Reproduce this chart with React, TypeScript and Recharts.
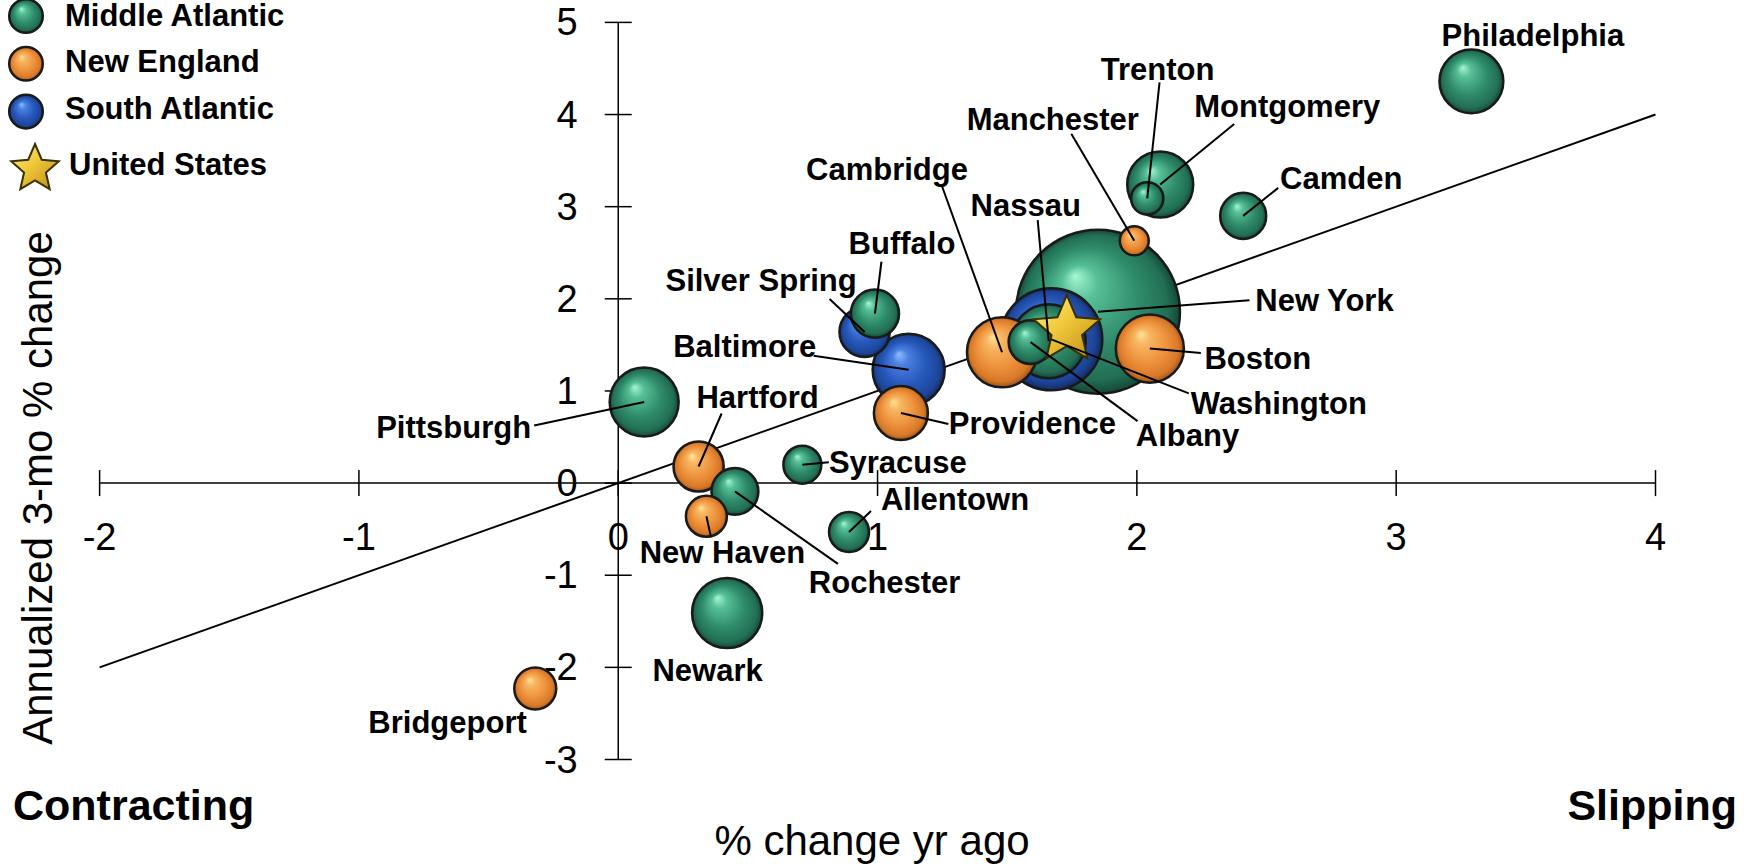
import React from 'react';
import { ScatterChart, Scatter, XAxis, YAxis, ZAxis } from 'recharts';

const FONT = '"Liberation Sans", Arial, Helvetica, sans-serif';

// ---- data ----
const regionNames = ['Middle Atlantic', 'New England', 'South Atlantic'];
const cities = [
  'Philadelphia', 'Trenton', 'Montgomery', 'Manchester', 'Camden', 'Cambridge', 'Nassau', 'New York',
  'Buffalo', 'Silver Spring', 'Baltimore', 'Boston', 'Washington', 'Albany', 'Providence', 'Pittsburgh',
  'Hartford', 'Syracuse', 'Allentown', 'New Haven', 'Rochester', 'Newark', 'Bridgeport',
];
const cityRegion = [
  0, 0, 0, 1, 0, 1, 0, 0,
  0, 2, 2, 1, 2, 0, 1, 0,
  1, 0, 0, 1, 0, 0, 1,
];
// % change yr ago
const pctYrAgo = [
  3.29, 2.04, 2.09, 1.99, 2.41, 1.48, 1.66, 1.85,
  0.99, 0.95, 1.12, 2.05, 1.67, 1.59, 1.09, 0.10,
  0.31, 0.71, 0.89, 0.34, 0.45, 0.42, -0.32,
];
// annualized 3-mo % change
const annualized3mo = [
  4.36, 3.09, 3.24, 2.63, 2.90, 1.42, 1.54, 1.86,
  1.84, 1.64, 1.23, 1.46, 1.56, 1.53, 0.76, 0.88,
  0.18, 0.20, -0.53, -0.36, -0.09, -1.41, -2.23,
];
// bubble size (employment, relative units)
const employment = [
  102, 26, 109, 21, 53, 123, 137, 672,
  58, 63, 130, 116, 260, 48, 73, 119,
  63, 36, 40, 42, 55, 123, 44,
];
const unitedStates = { name: 'United States', x: 1.73, y: 1.66 };
const xTicks = [-2, -1, 0, 1, 2, 3, 4];
const yTicks = [-3, -2, -1, 0, 1, 2, 3, 4, 5];

// ---- label placement (pixel offsets from bubble centre: label dx, dy, leader start dx, dy) ----
const labelLayout: Record<string, number[]> = {
  'Philadelphia': [61.5, -46.3],
  'Trenton': [10.3, -129, 12.3, -116],
  'Montgomery': [127, -77.6, 74, -60.6],
  'Manchester': [-81.5, -121, -63, -107],
  'Camden': [98, -37, 35, -28],
  'Cambridge': [-115, -183, -60, -166],
  'Nassau': [-23, -136, -11, -121],
  'New York': [226.5, -11.5, 151.5, -11.5],
  'Buffalo': [27, -70, 6.5, -52],
  'Silver Spring': [-103.5, -51, -35, -33],
  'Baltimore': [-164, -23, -95, -14],
  'Boston': [108, 10, 51, 4.5],
  'Washington': [227.5, 64, 137.5, 54],
  'Albany': [157, 93, 107, 79],
  'Providence': [131.5, 10, 47.5, 11],
  'Pittsburgh': [-190.5, 25.5, -110, 23.5],
  'Hartford': [59, -69, 23, -53],
  'Syracuse': [95.5, -2.5, 26.5, -2.5],
  'Allentown': [106, -32, 22, -21],
  'New Haven': [16, 36, 4.5, 20.5],
  'Rochester': [149.7, 91.5, 103, 72.5],
  'Newark': [-19.5, 57],
  'Bridgeport': [-87.7, 33.6],
};

const gradIds = ['gGreen', 'gOrange', 'gBlue'];
const legendTextY = [15.5, 61.5, 108.5];

const bubbleData = cities
  .map((name, i) => ({ name, region: cityRegion[i], x: pctYrAgo[i], y: annualized3mo[i], z: employment[i] }))
  .sort((a, b) => b.z - a.z);

const xAxisLine = [{ x: xTicks[0], y: 0, z: 0 }, { x: xTicks[xTicks.length - 1], y: 0, z: 0 }];
const yAxisLine = [{ x: 0, y: yTicks[0], z: 0 }, { x: 0, y: yTicks[yTicks.length - 1], z: 0 }];
const diagonal = [{ x: -2, y: -2, z: 0 }, { x: 4, y: 4, z: 0 }];
const xTickData = xTicks.map((t) => ({ x: t, y: 0, z: 0 }));
const yTickData = yTicks.map((t) => ({ x: 0, y: t, z: 0 }));

const Empty = () => <g />;

const XTick = (p: any) => (
  <g>
    <line x1={p.cx} x2={p.cx} y1={p.cy - 13} y2={p.cy + 13} stroke="#000" strokeWidth={1.5} />
    <text x={p.cx} y={p.cy + 54} textAnchor="middle" dominantBaseline="central" fontSize={38} fontFamily={FONT} fill="#000">
      {String(p.payload.x)}
    </text>
  </g>
);

const YTick = (p: any) => (
  <g>
    <line x1={p.cx - 13.5} x2={p.cx + 13.5} y1={p.cy} y2={p.cy} stroke="#000" strokeWidth={1.5} />
    <text x={p.cx - 40.5} y={p.cy} textAnchor="end" dominantBaseline="central" fontSize={38} fontFamily={FONT} fill="#000">
      {String(p.payload.y)}
    </text>
  </g>
);

const Bubble = (p: any) => {
  const r = p.width ? p.width / 2 : Math.sqrt(Math.max(p.size || 0, 0) / Math.PI);
  return (
    <circle cx={p.cx} cy={p.cy} r={r} fill={`url(#${gradIds[p.payload.region]})`} stroke="#1a1a1a" strokeWidth={2.5} />
  );
};

const starPath = (cx: number, cy: number, R: number, rIn: number) => {
  const pts: string[] = [];
  for (let k = 0; k < 10; k++) {
    const ang = -Math.PI / 2 + (k * Math.PI) / 5;
    const rr = k % 2 === 0 ? R : rIn;
    pts.push(`${(cx + rr * Math.cos(ang)).toFixed(2)},${(cy + rr * Math.sin(ang)).toFixed(2)}`);
  }
  return `M${pts.join('L')}Z`;
};

const Star = (p: any) => (
  <path d={starPath(p.cx, p.cy, 35, 16)} fill="url(#gStar)" stroke="#3a3000" strokeWidth={2} strokeLinejoin="miter" />
);

const CityLabel = (p: any) => {
  const lay = labelLayout[p.payload.name] || [0, 0];
  const [dx, dy, lx, ly] = lay;
  return (
    <g>
      {lx !== undefined && (
        <line x1={p.cx + lx} y1={p.cy + ly} x2={p.cx} y2={p.cy} stroke="#000" strokeWidth={2} />
      )}
      <text x={p.cx + dx} y={p.cy + dy} textAnchor="middle" dominantBaseline="central" fontSize={31} fontWeight="bold" fontFamily={FONT} fill="#000">
        {p.payload.name}
      </text>
    </g>
  );
};

const GradDefs = () => (
  <svg width={0} height={0} style={{ position: 'absolute' }}>
    <defs>
      <radialGradient id="gGreen" cx="50%" cy="50%" r="50%" fx="36%" fy="28%">
        <stop offset="0%" stopColor="#a6f7d2" />
        <stop offset="22%" stopColor="#56bf96" />
        <stop offset="60%" stopColor="#2f8c6b" />
        <stop offset="88%" stopColor="#226f54" />
        <stop offset="100%" stopColor="#15473a" />
      </radialGradient>
      <radialGradient id="gOrange" cx="50%" cy="50%" r="50%" fx="36%" fy="28%">
        <stop offset="0%" stopColor="#ffe596" />
        <stop offset="22%" stopColor="#f8b662" />
        <stop offset="60%" stopColor="#ee923c" />
        <stop offset="88%" stopColor="#d87828" />
        <stop offset="100%" stopColor="#9a5418" />
      </radialGradient>
      <radialGradient id="gBlue" cx="50%" cy="50%" r="50%" fx="36%" fy="28%">
        <stop offset="0%" stopColor="#8fbcff" />
        <stop offset="22%" stopColor="#4a7fe0" />
        <stop offset="60%" stopColor="#2658bb" />
        <stop offset="88%" stopColor="#1d469a" />
        <stop offset="100%" stopColor="#122c66" />
      </radialGradient>
      <linearGradient id="gStar" x1="0" y1="0" x2="1" y2="1">
        <stop offset="0%" stopColor="#fff08a" />
        <stop offset="45%" stopColor="#f0c83a" />
        <stop offset="100%" stopColor="#b88a14" />
      </linearGradient>
    </defs>
  </svg>
);

const Overlay = () => (
  <svg width={1754} height={865} style={{ position: 'absolute', left: 0, top: 0, pointerEvents: 'none' }}>
    {regionNames.map((n, i) => (
      <g key={n}>
        <circle cx={26} cy={16 + i * 47.8} r={16.8} fill={`url(#${gradIds[i]})`} stroke="#1a1a1a" strokeWidth={2.5} />
        <text x={65} y={legendTextY[i]} dominantBaseline="central" fontSize={31} fontWeight="bold" fontFamily={FONT} fill="#000">{n}</text>
      </g>
    ))}
    <path d={starPath(35, 169, 25, 11.5)} fill="url(#gStar)" stroke="#3a3000" strokeWidth={2} />
    <text x={69} y={164.5} dominantBaseline="central" fontSize={31} fontWeight="bold" fontFamily={FONT} fill="#000">{unitedStates.name}</text>
    <text transform="translate(37,488) rotate(-90)" textAnchor="middle" dominantBaseline="central" fontSize={42} fontFamily={FONT} fill="#000">
      Annualized 3-mo % change
    </text>
    <text x={872} y={840} textAnchor="middle" dominantBaseline="central" fontSize={42} fontFamily={FONT} fill="#000">% change yr ago</text>
    <text x={13} y={805} dominantBaseline="central" fontSize={43} fontWeight="bold" fontFamily={FONT} fill="#000">Contracting</text>
    <text x={1737} y={805} textAnchor="end" dominantBaseline="central" fontSize={43} fontWeight="bold" fontFamily={FONT} fill="#000">Slipping</text>
  </svg>
);

export default function App() {
  return (
    <div style={{ position: 'absolute', left: 0, top: 0, width: 1754, height: 865, background: '#fff', fontFamily: FONT }}>
      <GradDefs />
      <div style={{ position: 'absolute', left: 0, top: 0 }}>
        <ScatterChart width={1754} height={865} margin={{ top: 22.4, right: 98.5, bottom: 105.5, left: 99.6 }}>
          <XAxis type="number" dataKey="x" domain={[-2, 4]} hide />
          <YAxis type="number" dataKey="y" domain={[-3, 5]} hide />
          <ZAxis type="number" dataKey="z" domain={[0, 1000]} range={[0, 10000 * Math.PI]} />
          <Scatter data={diagonal} line={{ stroke: '#000', strokeWidth: 2 }} shape={Empty} isAnimationActive={false} />
          <Scatter data={xAxisLine} line={{ stroke: '#000', strokeWidth: 1.5 }} shape={Empty} isAnimationActive={false} />
          <Scatter data={yAxisLine} line={{ stroke: '#000', strokeWidth: 1.5 }} shape={Empty} isAnimationActive={false} />
          <Scatter data={xTickData} shape={XTick} isAnimationActive={false} />
          <Scatter data={yTickData} shape={YTick} isAnimationActive={false} />
          <Scatter data={bubbleData} shape={Bubble} isAnimationActive={false} />
          <Scatter data={[{ ...unitedStates, z: 0 }]} shape={Star} isAnimationActive={false} />
          <Scatter data={bubbleData} shape={CityLabel} isAnimationActive={false} />
        </ScatterChart>
      </div>
      <Overlay />
    </div>
  );
}
